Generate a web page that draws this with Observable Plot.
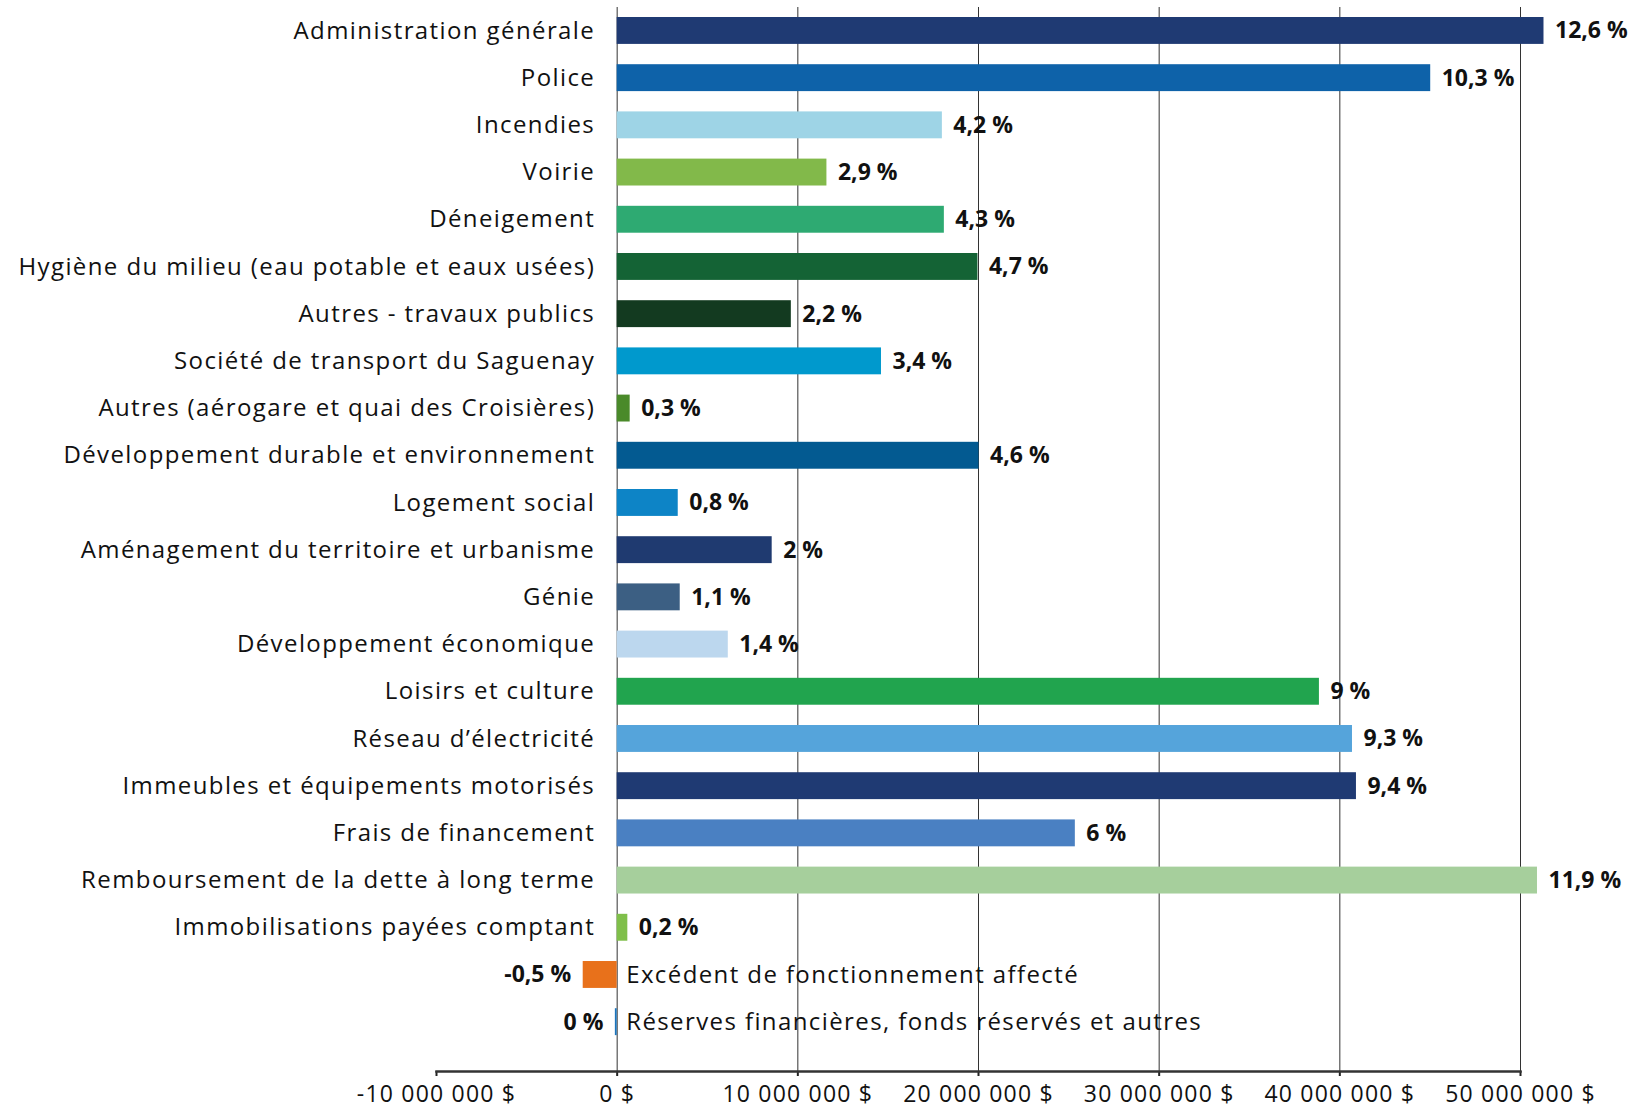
<!DOCTYPE html>
<html>
<head>
<meta charset="utf-8">
<script src="https://cdn.jsdelivr.net/npm/d3@7"></script>
<script src="https://cdn.jsdelivr.net/npm/@observablehq/plot@0.6"></script>
<style>
  html, body { margin: 0; padding: 0; background: #ffffff; }
  #chart svg { display: block; }
  #chart g[font-size="24"] text { letter-spacing: 1.4px; }
  #chart g[aria-label="x-axis tick label"] text { letter-spacing: 1.2px; }
</style>
</head>
<body>
<div id="chart"></div>
<script>
const categories = [
  "Administration générale",
  "Police",
  "Incendies",
  "Voirie",
  "Déneigement",
  "Hygiène du milieu (eau potable et eaux usées)",
  "Autres - travaux publics",
  "Société de transport du Saguenay",
  "Autres (aérogare et quai des Croisières)",
  "Développement durable et environnement",
  "Logement social",
  "Aménagement du territoire et urbanisme",
  "Génie",
  "Développement économique",
  "Loisirs et culture",
  "Réseau d’électricité",
  "Immeubles et équipements motorisés",
  "Frais de financement",
  "Remboursement de la dette à long terme",
  "Immobilisations payées comptant",
  "Excédent de fonctionnement affecté",
  "Réserves financières, fonds réservés et autres"
];

const amounts = [
  51300000, 45030000, 18000000, 11610000, 18110000, 19970000, 9640000, 14630000,
  720000, 20030000, 3380000, 8580000, 3490000, 6150000, 38870000, 40700000,
  40920000, 25360000, 50940000, 590000, -1880000, -100000
];

const percents = [
  12.6, 10.3, 4.2, 2.9, 4.3, 4.7, 2.2, 3.4, 0.3, 4.6, 0.8, 2, 1.1, 1.4,
  9, 9.3, 9.4, 6, 11.9, 0.2, -0.5, 0
];

const barColors = [
  "#1f3a73", "#0e62a9", "#9ed4e6", "#82b94a", "#2eaa72", "#146335", "#133a20", "#0099cd",
  "#4a8a2a", "#035a91", "#0d84c6", "#1f3a70", "#3c5f83", "#bcd7ee", "#21a44e", "#55a4db",
  "#1f3a73", "#4a80c2", "#a6cf9c", "#7fbf4a", "#e8711b", "#1c75bc"
];

const xTicks = [-10000000, 0, 10000000, 20000000, 30000000, 40000000, 50000000];

const data = categories.map((c, i) => ({
  category: c,
  value: amounts[i],
  pct: percents[i],
  color: barColors[i]
}));

const loc = d3.formatLocale({decimal: ",", thousands: " ", grouping: [3], currency: ["", " $"], minus: "-"});
const moneyFmt = loc.format(",");
const pctFmt = p => String(p).replace(".", ",") + " %";

const labelFont = "'Open Sans', sans-serif";

const chart = Plot.plot({
  width: 1643,
  height: 1109,
  marginLeft: 436,
  marginRight: 123,
  marginTop: 7,
  marginBottom: 38,
  style: {background: "#ffffff", fontFamily: labelFont, color: "#111"},
  x: {domain: [-10000000, 50000000], label: null},
  y: {domain: categories, paddingInner: 0.43, paddingOuter: 0.486, align: 0.218, round: false, axis: null},
  color: {type: "identity"},
  marks: [
    Plot.gridX(xTicks.filter(d => d > 0), {stroke: "#333333", strokeOpacity: 1, strokeWidth: 1}),
    Plot.ruleX([0], {stroke: "#333333", strokeWidth: 1}),
    Plot.barX(data, {x: "value", y: "category", fill: "color"}),
    // category labels, left of zero for positive values
    Plot.text(data, {
      filter: d => d.value >= 0,
      x: 0, y: "category", text: "category",
      textAnchor: "end", dx: -22, fontSize: 24, fill: "#111", fontFamily: labelFont
    }),
    // category labels, right of zero for negative values
    Plot.text(data, {
      filter: d => d.value < 0,
      x: 0, y: "category", text: "category",
      textAnchor: "start", dx: 9, fontSize: 24, fill: "#111", fontFamily: labelFont
    }),
    // percent labels
    Plot.text(data, {
      filter: d => d.value >= 0,
      x: "value", y: "category", text: d => pctFmt(d.pct),
      textAnchor: "start", dx: 11, fontSize: 23, fontWeight: "bold", fill: "#111", fontFamily: labelFont
    }),
    Plot.text(data, {
      filter: d => d.value < 0,
      x: "value", y: "category", text: d => pctFmt(d.pct),
      textAnchor: "end", dx: -12, fontSize: 23, fontWeight: "bold", fill: "#111", fontFamily: labelFont
    }),
    Plot.axisX({
      ticks: xTicks,
      tickFormat: d => moneyFmt(d) + " $",
      tickSize: 5,
      tickPadding: 9,
      stroke: "#222",
      strokeWidth: 2,
      fontSize: 23,
      fill: "#111",
      label: null
    }),
    Plot.frame({anchor: "bottom", stroke: "#333", strokeWidth: 2.5})
  ]
});

document.getElementById("chart").appendChild(chart);
</script>
</body>
</html>
